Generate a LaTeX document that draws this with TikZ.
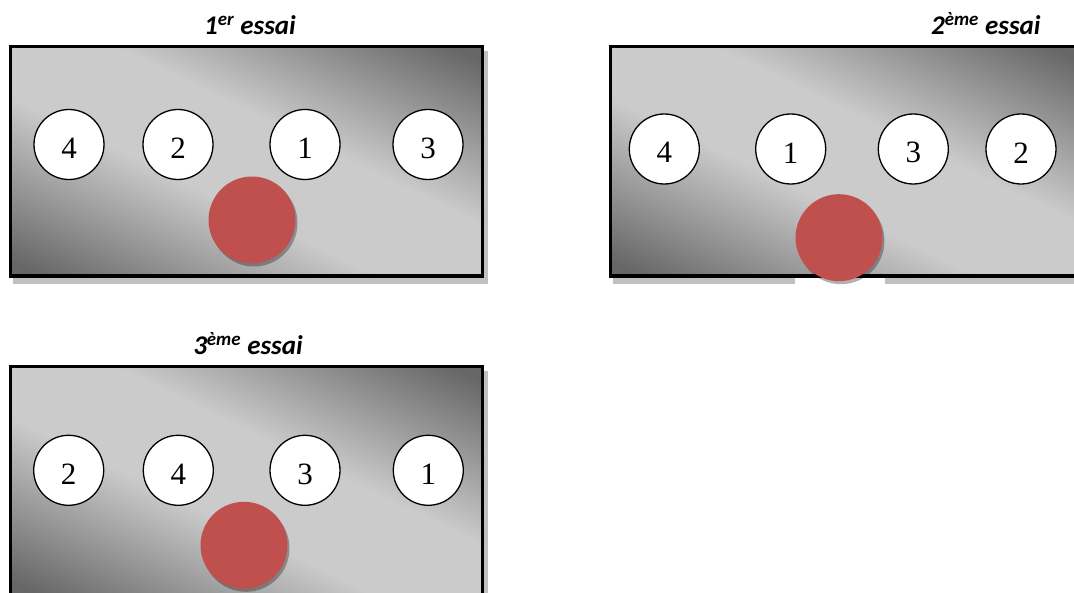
\documentclass[tikz,border=0pt]{standalone}
\usepackage{fontspec}
\setmainfont{Liberation Serif}
\newfontfamily\calib{Carlito}
\definecolor{dk}{RGB}{102,102,102}
\definecolor{lt}{RGB}{203,203,203}
\definecolor{shadowgray}{RGB}{192,192,192}
\definecolor{redball}{RGB}{192,80,77}
\pgfdeclarehorizontalshading{boxshade}{100bp}{color(0bp)=(dk); color(3bp)=(dk); color(39bp)=(lt); color(61bp)=(lt); color(97bp)=(dk); color(100bp)=(dk)}
\tikzset{
  boxshadow/.style={fill=shadowgray, draw=none},
  plateborder/.style={draw=black, line width=3.3pt},
  circ/.style={circle, draw=black, line width=1.3pt, fill=white, minimum size=70pt, inner sep=0pt},
  numtxt/.style={font=\fontsize{31}{36}\selectfont, inner sep=0pt, yshift=-3.8pt},
  ball/.style={circle, fill=redball, minimum size=87pt, inner sep=0pt},
  ballshadow/.style={circle, fill=black, opacity=0.3, minimum size=87pt, inner sep=0pt},
  title/.style={font=\calib\bfseries\itshape\fontsize{27}{32}\selectfont, inner sep=0pt, anchor=base}
}
% #1 = centre x, #2 = centre y (box 472 x 229.3)
\newcommand{\plateshade}[2]{%
  \begin{scope}
    \clip (#1-236,#2-114.65) rectangle (#1+236,#2+114.65);
    \begin{scope}[shift={(#1,#2)}, cm={4.7024,2.2844,4.7024,-2.2844,(0,0)}]
      \pgflowlevelsynccm
      \pgftext{\pgfuseshading{boxshade}}
    \end{scope}
  \end{scope}%
}
\begin{document}
\begin{tikzpicture}[x=1pt,y=-1pt]
\useasboundingbox (0,0) rectangle (1074,593);
% ---------- box 1
\fill[boxshadow] (13,51) rectangle (488,284);
\plateshade{246.7}{161.35}
\draw[plateborder] (10.7,46.7) rectangle (482.7,276);
% ---------- box 2
\fill[boxshadow] (613,51) rectangle (1088,284);
\plateshade{846.5}{161.35}
\draw[plateborder] (610.5,46.7) rectangle (1082.5,276);
\fill[white] (795,278) rectangle (885,286);
% ---------- box 3
\fill[boxshadow] (13,371) rectangle (488,604);
\plateshade{246.7}{481.35}
\draw[plateborder] (10.7,366.7) rectangle (482.7,596);

% ---------- circles box 1
\node[circ, label={[numtxt]center:4}] (a4) at (69,144.5) {};
\node[circ, label={[numtxt]center:2}] (a2) at (178,144.5) {};
\node[circ, label={[numtxt]center:1}] (a1) at (305,144.5) {};
\node[circ, label={[numtxt]center:3}] (a3) at (428,144.5) {};
\node[ballshadow] (as) at (254,223) {};
\node[ball] (ab) at (252,220) {};
% ---------- circles box 2
\node[circ, label={[numtxt]center:4}] (b4) at (664.3,149) {};
\node[circ, label={[numtxt]center:1}] (b1) at (790.7,149) {};
\node[circ, label={[numtxt]center:3}] (b3) at (913.3,149) {};
\node[circ, label={[numtxt]center:2}] (b2) at (1021,149) {};
\node[ballshadow] (bs) at (841,240.7) {};
\node[ball] (bb) at (839,237.7) {};
% ---------- circles box 3
\node[circ, label={[numtxt]center:2}] (c2) at (68.7,470.3) {};
\node[circ, label={[numtxt]center:4}] (c4) at (178.3,470.3) {};
\node[circ, label={[numtxt]center:3}] (c3) at (305,470.3) {};
\node[circ, label={[numtxt]center:1}] (c1) at (428.3,470.3) {};
\node[ballshadow] (cs) at (246,548.3) {};
\node[ball] (cb) at (244,545.3) {};

% ---------- titles
\node[title] (t1) at (250,35) {1\textsuperscript{er} essai};
\node[title] (t2) at (985.8,35) {2\textsuperscript{ème} essai};
\node[title] (t3) at (248,355) {3\textsuperscript{ème} essai};
\end{tikzpicture}
\end{document}
